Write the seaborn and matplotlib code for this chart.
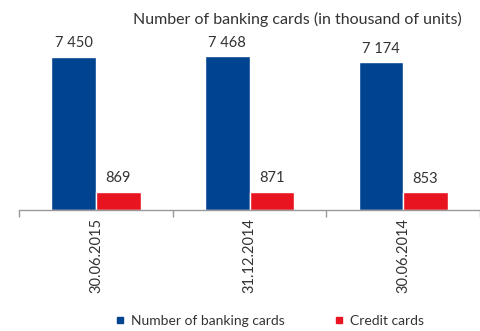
import matplotlib
matplotlib.use("Agg")
import matplotlib.pyplot as plt
from matplotlib.lines import Line2D
import seaborn as sns
import pandas as pd

dates = ["30.06.2015", "31.12.2014", "30.06.2014"]
banking_cards = [7450, 7468, 7174]
credit_cards = [869, 871, 853]
series_names = ["Number of banking cards", "Credit cards"]
colors = ["#00438E", "#E8141F"]

df = pd.DataFrame({
    "date": dates * 2,
    "series": [series_names[0]] * 3 + [series_names[1]] * 3,
    "value": banking_cards + credit_cards,
})

sns.set_theme(style="white")
plt.rcParams["font.family"] = ["Lato", "DejaVu Sans"]
text_color = "#333333"

fig = plt.figure(figsize=(4.8, 3.31), dpi=100)
ax = fig.add_axes([0.04, 0.3656, 0.96, 0.559])

sns.barplot(data=df, x="date", y="value", hue="series", order=dates,
            hue_order=series_names, palette=colors, width=0.58,
            saturation=1, legend=False, ax=ax)

ax.set_ylim(0, 9000)
ax.set_xlim(-0.5, 2.5)

for container in ax.containers:
    ax.bar_label(container, labels=[f"{v:,.0f}".replace(",", " ") for v in container.datavalues],
                 padding=5, fontsize=10.5, color=text_color)

for side in ["left", "top", "right"]:
    ax.spines[side].set_visible(False)
ax.spines["bottom"].set_color("#999999")
ax.spines["bottom"].set_linewidth(1)
ax.set_yticks([])
ax.set_xlabel("")
ax.set_ylabel("")
ax.set_xticks([-0.5, 0.5, 1.5, 2.5], minor=True)
ax.tick_params(axis="x", which="minor", length=5, color="#999999", direction="out", bottom=True)
ax.tick_params(axis="x", which="major", length=0, pad=6, labelsize=10.5, labelcolor=text_color)
for lbl in ax.get_xticklabels():
    lbl.set_rotation(90)

fig.text(0.62, 0.94, "Number of banking cards (in thousand of units)",
         ha="center", va="center", fontsize=11.5, color=text_color)

handles = [Line2D([0], [0], marker="s", linestyle="", markersize=5,
                  markerfacecolor=c, markeredgecolor=c) for c in colors]
fig.legend(handles, series_names, loc="center", bbox_to_anchor=(0.56, 0.03),
           ncol=2, frameon=False, fontsize=10, handlelength=0.8, handletextpad=0.4,
           columnspacing=3.5, labelcolor=text_color)

fig.savefig("out.png", dpi=100)
